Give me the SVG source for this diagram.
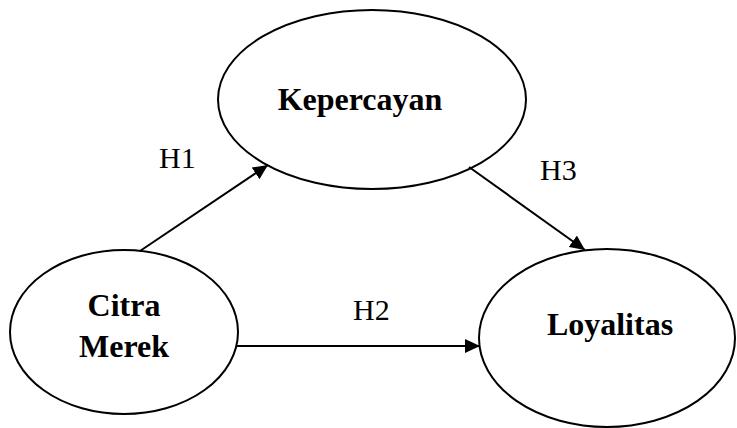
<svg xmlns="http://www.w3.org/2000/svg" width="737" height="428" viewBox="0 0 737 428">
<defs>
<marker id="arr" viewBox="0 0 15 14" refX="15" refY="7" markerWidth="15" markerHeight="14" orient="auto" markerUnits="userSpaceOnUse">
<path d="M0,0 L15,7 L0,14 z" fill="#000"/>
</marker>
<style>
.node{fill:#fff;stroke:#000;stroke-width:2}
.lbl{font-family:"Liberation Serif","Times New Roman",serif;font-weight:bold;font-size:32px;fill:#000;text-anchor:middle}
.h{font-family:"Liberation Serif","Times New Roman",serif;font-size:30px;fill:#000}
.edge{stroke:#000;stroke-width:2;fill:none;marker-end:url(#arr)}
</style>
</defs>
<rect width="737" height="428" fill="#fff"/>
<g id="kepercayan">
<ellipse class="node" cx="372" cy="99.5" rx="154" ry="89.5"/>
<text class="lbl" x="360" y="110">Kepercayan</text>
</g>
<g id="citra-merek">
<ellipse class="node" cx="124" cy="332" rx="114" ry="82"/>
<text class="lbl" x="124" y="316">Citra</text>
<text class="lbl" x="124" y="357">Merek</text>
</g>
<g id="loyalitas">
<ellipse class="node" cx="607" cy="338" rx="128" ry="89"/>
<text class="lbl" x="610" y="335">Loyalitas</text>
</g>
<g id="connectors">
<line class="edge" x1="140" y1="251" x2="268" y2="165"/>
<line class="edge" x1="237" y1="346" x2="480" y2="346"/>
<line class="edge" x1="469" y1="167" x2="585" y2="250"/>
<text class="h" x="159" y="168">H1</text>
<text class="h" x="353" y="320">H2</text>
<text class="h" x="540" y="180">H3</text>
</g>
</svg>
